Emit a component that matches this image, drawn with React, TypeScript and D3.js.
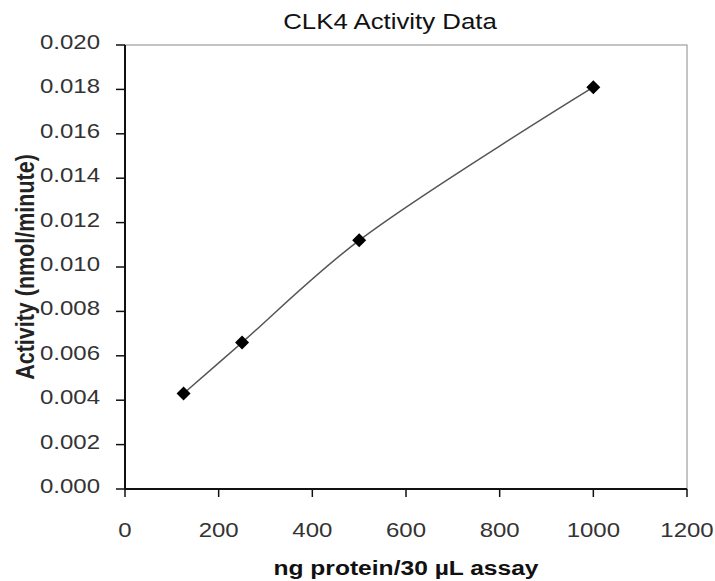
import { useEffect, useRef } from 'react';
import * as d3 from 'd3';

// values
const proteinNg = [125, 250, 500, 1000];
const activity = [0.0043, 0.0066, 0.0112, 0.0181];
const xTicks = [0, 200, 400, 600, 800, 1000, 1200];
const yTicks = [0, 0.002, 0.004, 0.006, 0.008, 0.01, 0.012, 0.014, 0.016, 0.018, 0.02];

const W = 715;
const H = 581;
const FONT = '"Liberation Sans", Arial, sans-serif';
const STRETCH = 1.2; // the reference text is drawn a bit wide

const App = () => {
  const svgRef = useRef<SVGSVGElement>(null);

  useEffect(() => {
    if (!svgRef.current) return;
    const margin = { top: 45, right: 28, bottom: 92, left: 125 };
    const width = W - margin.left - margin.right;
    const height = H - margin.top - margin.bottom;

    d3.select(svgRef.current).selectAll('*').remove();
    const root = d3.select(svgRef.current);
    const svg = root.append('g').attr('transform', `translate(${margin.left},${margin.top})`);

    const x = d3.scaleLinear().domain([0, 1200]).range([0, width]);
    const y = d3.scaleLinear().domain([0, 0.02]).range([height, 0]);

    // grey frame on top/right
    svg.append('rect')
      .attr('x', 0).attr('y', 0).attr('width', width).attr('height', height)
      .attr('fill', 'none').attr('stroke', '#8a8a8a').attr('stroke-width', 1);

    const stretchedText = (parent: any, tx: number, ty: number, txt: string, opts: any = {}) => {
      const g = parent.append('g').attr('transform', `translate(${tx},${ty}) scale(${STRETCH},1)${opts.rotate ? ' rotate(-90)' : ''}`);
      g.append('text')
        .attr('text-anchor', opts.anchor || 'middle')
        .style('font-family', FONT)
        .style('font-size', `${opts.size || 20}px`)
        .style('font-weight', opts.weight || 'normal')
        .style('fill', opts.fill || '#222')
        .text(txt);
      return g;
    };

    // y axis
    const yAxis = svg.append('g');
    yAxis.append('line').attr('x1', 0).attr('x2', 0).attr('y1', 0).attr('y2', height)
      .attr('stroke', '#111').attr('stroke-width', 2);
    yTicks.forEach(t => {
      yAxis.append('line').attr('x1', -9).attr('x2', 0).attr('y1', y(t)).attr('y2', y(t))
        .attr('stroke', '#111').attr('stroke-width', 1.5);
      stretchedText(yAxis, -25, y(t) + 4, d3.format('.3f')(t), { anchor: 'end', fill: '#333' });
    });

    // x axis
    const xAxis = svg.append('g').attr('transform', `translate(0,${height})`);
    xAxis.append('line').attr('x1', 0).attr('x2', width).attr('y1', 0).attr('y2', 0)
      .attr('stroke', '#111').attr('stroke-width', 2);
    xTicks.forEach(t => {
      xAxis.append('line').attr('x1', x(t)).attr('x2', x(t)).attr('y1', 0).attr('y2', 8)
        .attr('stroke', '#111').attr('stroke-width', 1.5);
      stretchedText(xAxis, x(t), 48, String(t), { fill: '#333' });
    });

    // smoothed line
    const line = d3.line<number>()
      .x((d, i) => x(proteinNg[i]))
      .y(d => y(d))
      .curve(d3.curveCatmullRom);
    svg.append('path')
      .datum(activity)
      .attr('d', line)
      .attr('fill', 'none')
      .attr('stroke', '#555')
      .attr('stroke-width', 1.5);

    // diamond markers
    const diamond = d3.symbol().type(d3.symbolDiamond2).size(125);
    svg.selectAll('path.pt')
      .data(activity)
      .enter()
      .append('path')
      .attr('class', 'pt')
      .attr('transform', (d, i) => `translate(${x(proteinNg[i])},${y(d)})`)
      .attr('d', diamond)
      .attr('fill', '#000');

    // title and axis labels
    stretchedText(root, 390, 29, 'CLK4 Activity Data', { size: 21.5, fill: '#111' });
    stretchedText(root, margin.left + width / 2, 575, 'ng protein/30 µL assay', { size: 20.5, weight: 'bold', fill: '#111' });
    stretchedText(root, 34, margin.top + height / 2, 'Activity (nmol/minute)', { size: 21.5, weight: 'bold', fill: '#222', rotate: true });
  }, []);

  return (
    <div style={{ position: 'absolute', left: 0, top: 0 }}>
      <svg ref={svgRef} width={W} height={H} style={{ display: 'block', background: '#fff' }}></svg>
    </div>
  );
};

export default App;
